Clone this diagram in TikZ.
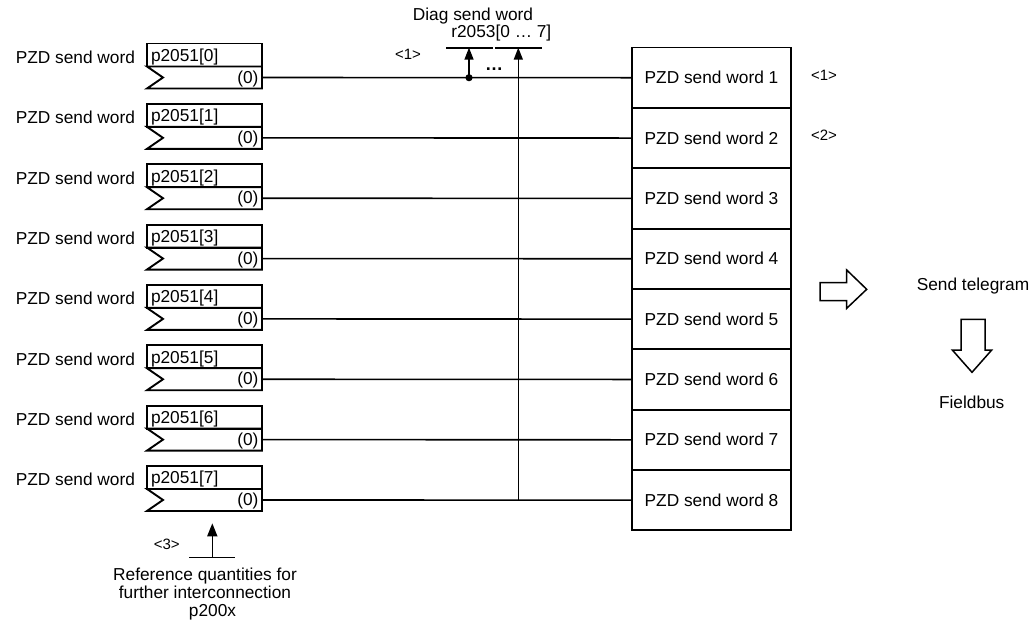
\documentclass[tikz,border=0pt]{standalone}
\usepackage{fontspec}
\setmainfont{Liberation Sans}
\usetikzlibrary{arrows.meta}
\begin{document}
\begin{tikzpicture}[x=1pt,y=-1pt,
  every node/.style={inner sep=0pt,outer sep=0pt,font=\fontsize{17.3}{21}\selectfont},
  small/.style={font=\fontsize{15}{18}\selectfont},
  boxline/.style={line width=1.9pt},
  wire/.style={line width=1.6pt},
  arr/.style={line width=1.6pt,-{Triangle[length=12pt,width=9pt]}},
  ptop/.style={boxline,draw,rectangle,minimum width=115pt,minimum height=23pt,anchor=north west},
  pbot/.style={rectangle,minimum width=115pt,minimum height=22pt,anchor=north west},
  wordbox/.style={boxline,draw,rectangle,minimum width=159pt,minimum height=60.35pt},
  hollow/.style={line width=1.5pt,draw,fill=white,line join=miter}
]
\useasboundingbox (0,0) rectangle (1030,625);

\foreach \k in {0,...,7}{
  \pgfmathsetmacro{\ty}{43.5+60.35*\k}
  \node[anchor=base east] (lab\k) at (135,\ty+19.8) {PZD send word};
  \node[ptop] (p\k) at (147,\ty) {};
  \node[anchor=base west] (pt\k) at (151,\ty+18) {p2051[\k]};
  \node[pbot] (q\k) at (147,\ty+23) {};
  \draw[boxline] (q\k.north west) -- (q\k.north east) -- (q\k.south east) -- (q\k.south west) -- (163,\ty+34) -- cycle;
  \node[anchor=base east] (z\k) at (258.5,\ty+39.6) {(0)};
  \pgfmathtruncatemacro{\n}{\k+1}
  \node[wordbox] (w\k) at (711.5,77.7+60.35*\k) {PZD send word \n};
  \draw[wire] (q\k.east) -- (w\k.west);
}

% Diag send word
\node[anchor=base] (diag) at (473,20.5) {Diag send word};
\node[anchor=base] (r2053) at (501.3,37.3) {r2053[0 … 7]};
\coordinate (bar1a) at (446,47.7);
\coordinate (bar1b) at (492.7,47.7);
\coordinate (bar2a) at (495,47.7);
\coordinate (bar2b) at (541.7,47.7);
\draw[wire] (bar1a) -- (bar1b);
\draw[wire] (bar2a) -- (bar2b);
\coordinate (tip1) at (469,47.7);
\coordinate (tip2) at (518.3,47.7);
\coordinate (dot1) at (469,77.7);
\coordinate (foot2) at (518.3,500.15);
\fill (dot1) circle (3.6pt);
\draw[arr] (dot1) -- (tip1);
\draw[arr] (foot2) -- (tip2);
\node[anchor=base,font=\fontsize{18}{21}\selectfont\bfseries] (dots) at (494,70) {…};
\node[small,anchor=base] (n1a) at (408,59) {<1>};
\node[small,anchor=base] (n1b) at (824,80.7) {<1>};
\node[small,anchor=base] (n2) at (824,140) {<2>};

% bottom reference
\coordinate (rbarA) at (189.3,557.3);
\coordinate (rbarB) at (235,557.3);
\coordinate (rfoot) at (212.3,557.3);
\coordinate (rtip) at (212.3,523.3);
\draw[wire] (rbarA) -- (rbarB);
\draw[line width=1.6pt,-{Triangle[length=13pt,width=10pt]}] (rfoot) -- (rtip);
\node[small,anchor=base] (n3) at (166.7,549.3) {<3>};
\node[anchor=base] (ref1) at (205,580) {Reference quantities for};
\node[anchor=base] (ref2) at (205,598.3) {further interconnection};
\node[anchor=base] (ref3) at (212.5,616.7) {p200x};

% hollow arrows
\draw[hollow] (820,282.7) -- (846.7,282.7) -- (846.7,270) -- (866.7,289.3) -- (846.7,308.3) -- (846.7,300.7) -- (820,300.7) -- cycle;
\node[anchor=base] (tele) at (973,290.7) {Send telegram};
\draw[hollow] (961,319.3) -- (985,319.3) -- (985,350) -- (991.7,350) -- (972,372.3) -- (952.3,350) -- (961,350) -- cycle;
\node[anchor=base] (fb) at (971.7,408.3) {Fieldbus};
\end{tikzpicture}
\end{document}
